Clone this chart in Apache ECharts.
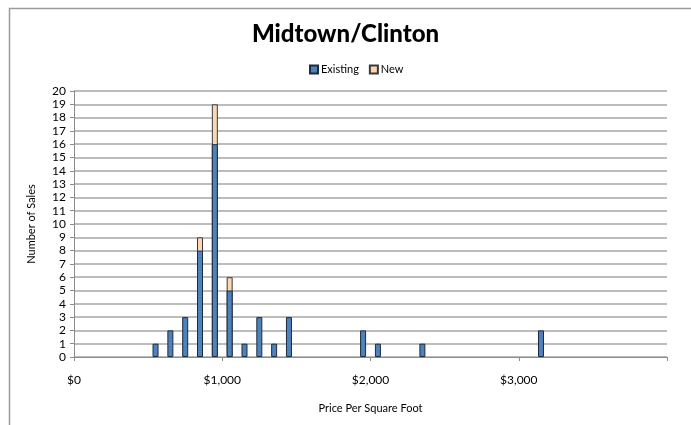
<!DOCTYPE html>
<html>
<head>
<meta charset="utf-8">
<script src="https://cdn.jsdelivr.net/npm/echarts@6/dist/echarts.min.js"></script>
<style>
  html, body { margin: 0; padding: 0; background: #fff; }
  #chart { width: 691px; height: 425px; }
</style>
</head>
<body>
<div id="chart"></div>
<script>
// Price bins ($ per square foot, bin midpoints) and sale counts
const priceBins = [550, 650, 750, 850, 950, 1050, 1150, 1250, 1350, 1450, 1950, 2050, 2350, 3150];
const existingSales = [1, 2, 3, 8, 16, 5, 1, 3, 1, 3, 2, 1, 1, 2];
const newSales = [0, 0, 0, 1, 3, 1, 0, 0, 0, 0, 0, 0, 0, 0];
const seriesNames = ['Existing', 'New'];
const titleText = 'Midtown/Clinton';
const xAxisTitle = 'Price Per Square Foot';
const yAxisTitle = 'Number of Sales';

const font = 'Lato, "Open Sans", sans-serif';

const chart = echarts.init(document.getElementById('chart'), null, { renderer: 'canvas' });

// "New" sales sit on top of "Existing": draw the full column height (existing + new)
// behind the existing column so only the new portion shows above it.
const existingPairs = priceBins.map((p, i) => [p, existingSales[i]]);
const totalPairs = priceBins
  .map((p, i) => [p, existingSales[i] + newSales[i], newSales[i]])
  .filter(d => d[2] > 0)
  .map(d => [d[0], d[1]]);

chart.setOption({
  animation: false,
  backgroundColor: '#ffffff',
  title: {
    text: titleText,
    left: 'center',
    top: 17,
    textStyle: { fontFamily: font, fontWeight: 900, fontSize: 24, color: '#000' }
  },
  legend: {
    data: seriesNames,
    top: 59,
    left: 304,
    itemWidth: 8,
    itemHeight: 8,
    itemGap: 10,
    icon: 'rect',
    textStyle: { fontFamily: font, fontSize: 11, color: '#000', padding: [0, 0, 0, -2] }
  },
  grid: { left: 74, right: 24, top: 91, bottom: 68 },
  xAxis: {
    type: 'value',
    min: 0,
    max: 4000,
    interval: 1000,
    name: xAxisTitle,
    nameLocation: 'middle',
    nameGap: 46,
    nameTextStyle: { fontFamily: font, fontSize: 11, color: '#000' },
    axisLine: { show: true, lineStyle: { color: '#8c8c8c', width: 1 } },
    axisTick: { show: true, length: 4, inside: false, lineStyle: { color: '#8c8c8c' } },
    axisLabel: {
      margin: 17,
      fontFamily: font,
      fontSize: 12,
      color: '#000',
      formatter: v => v >= 4000 ? '' : '$' + v.toLocaleString('en-US')
    },
    splitLine: { show: false }
  },
  yAxis: {
    type: 'value',
    min: 0,
    max: 20,
    interval: 1,
    name: yAxisTitle,
    nameLocation: 'middle',
    nameGap: 37,
    nameTextStyle: { fontFamily: font, fontSize: 11, color: '#000' },
    axisLine: { show: true, lineStyle: { color: '#8c8c8c', width: 1 } },
    axisTick: { show: true, length: 4, lineStyle: { color: '#8c8c8c' } },
    axisLabel: { margin: 8, fontFamily: font, fontSize: 12, color: '#000' },
    splitLine: { show: true, lineStyle: { color: '#a6a6a6', width: 1.5 } }
  },
  series: [
    {
      name: seriesNames[0],
      type: 'bar',
      barWidth: 6,
      barGap: '-100%',
      z: 3,
      data: existingPairs,
      itemStyle: { color: '#4f81bd', borderColor: '#1d2b3d', borderWidth: 1 }
    },
    {
      name: seriesNames[1],
      type: 'bar',
      barWidth: 6,
      barGap: '-100%',
      z: 2,
      data: totalPairs,
      itemStyle: { color: '#fcd5b5', borderColor: '#3a3a3a', borderWidth: 1 }
    }
  ],
  graphic: [
    {
      type: 'rect',
      left: 7,
      top: 6,
      shape: { width: 720, height: 460 },
      style: { fill: 'none', stroke: '#9a9a9a', lineWidth: 1.5 },
      silent: true,
      z: -1
    }
  ]
});
</script>
</body>
</html>
